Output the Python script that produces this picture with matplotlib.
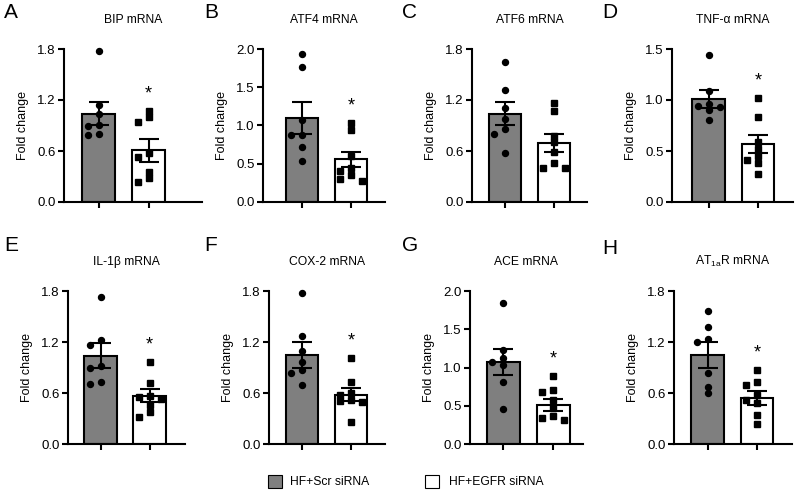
import matplotlib
matplotlib.use("Agg")
import matplotlib.pyplot as plt
import numpy as np

plt.rcParams['font.family'] = ['Liberation Sans', 'DejaVu Sans']
plt.rcParams['mathtext.fontset'] = 'custom'
plt.rcParams['mathtext.rm'] = 'Liberation Sans'
plt.rcParams['mathtext.it'] = 'Liberation Sans'

# ---------------- data ----------------
panel_letters = ["A", "B", "C", "D", "E", "F", "G", "H"]
titles = ["BIP mRNA", "ATF4 mRNA", "ATF6 mRNA", "TNF-α mRNA",
          "IL-1β mRNA", "COX-2 mRNA", "ACE mRNA", r"AT$_{\mathrm{1a}}$R mRNA"]
groups = ["HF+Scr siRNA", "HF+EGFR siRNA"]
ymax = [1.8, 2.0, 1.8, 1.5, 1.8, 1.8, 2.0, 1.8]
ytick_step = [0.6, 0.5, 0.6, 0.5, 0.6, 0.6, 0.5, 0.6]

scr_mean = [1.04, 1.10, 1.04, 1.01, 1.04, 1.05, 1.07, 1.05]
scr_sem = [0.14, 0.21, 0.14, 0.09, 0.145, 0.15, 0.17, 0.15]
egfr_mean = [0.61, 0.56, 0.69, 0.57, 0.57, 0.58, 0.51, 0.54]
egfr_sem = [0.135, 0.10, 0.105, 0.085, 0.075, 0.075, 0.08, 0.08]

scr_points = [
    [1.78, 1.14, 1.04, 0.90, 0.89, 0.80, 0.79],
    [1.94, 1.77, 1.07, 0.87, 0.87, 0.72, 0.54],
    [1.65, 1.32, 1.10, 0.98, 0.86, 0.80, 0.58],
    [1.44, 1.09, 0.96, 0.94, 0.93, 0.90, 0.80],
    [1.73, 1.22, 1.17, 0.92, 0.89, 0.73, 0.71],
    [1.78, 1.27, 1.10, 0.97, 0.87, 0.83, 0.69],
    [1.84, 1.23, 1.12, 1.07, 1.03, 0.81, 0.46],
    [1.56, 1.38, 1.23, 1.20, 0.83, 0.67, 0.60],
]
egfr_points = [
    [1.07, 1.00, 0.94, 0.58, 0.53, 0.35, 0.28, 0.24],
    [1.03, 0.94, 0.60, 0.45, 0.40, 0.35, 0.30, 0.28],
    [1.16, 1.07, 0.78, 0.71, 0.59, 0.46, 0.40, 0.40],
    [1.02, 0.83, 0.59, 0.52, 0.45, 0.41, 0.38, 0.27],
    [0.97, 0.72, 0.57, 0.55, 0.53, 0.46, 0.38, 0.32],
    [1.01, 0.73, 0.60, 0.58, 0.52, 0.51, 0.50, 0.26],
    [0.89, 0.71, 0.68, 0.58, 0.47, 0.36, 0.34, 0.32],
    [0.87, 0.73, 0.70, 0.58, 0.52, 0.48, 0.34, 0.24],
]
significant = [True, True, False, True, True, True, True, True]

# ---------------- layout (pixels) ----------------
W, H = 795, 494
# y-axis x, x-axis end, first bar centre, bar spacing
col_geom = [
    (64, 202, 98.5, 50), (263, 385, 302, 49), (472, 587, 505, 49), (672, 793, 708.5, 49.5),
    (68, 185, 100.5, 49), (269, 385, 302, 49), (470, 583, 503, 50), (674, 792, 707.5, 49.5),
]
row_geom = [(49, 202)] * 4 + [(291, 444)] * 4
letter_pos = [(4, 12), (204, 12), (402, 12), (602, 12),
              (4, 245), (204, 245), (402, 245), (602, 248)]

GRAY = "#7f7f7f"
LW = 1.5

fig = plt.figure(figsize=(W / 100, H / 100), dpi=100)


def swarm_offsets(vals, ppu_y, ppu_x, spacing_px=11, min_dy=5.5):
    order = np.argsort(-np.asarray(vals))
    placed = []
    offs = np.zeros(len(vals))
    for i in order:
        y = vals[i] * ppu_y
        for k in [0, -1, 1, -2, 2]:
            x = k * spacing_px
            ok = all(not (abs(y - py) < min_dy and abs(x - px) < spacing_px * 0.8)
                     for px, py in placed)
            if ok:
                placed.append((x, y))
                offs[i] = x / ppu_x
                break
    return offs


for i in range(8):
    yx, xend, c0, d = col_geom[i]
    ytop, ybot = row_geom[i]
    ax = fig.add_axes([yx / W, 1 - ybot / H, (xend - yx) / W, (ybot - ytop) / H])
    ax.set_xlim((yx - c0) / d, (xend - c0) / d)
    ax.set_ylim(0, ymax[i])
    ppu_y = (ybot - ytop) / ymax[i]

    ax.bar([0], [scr_mean[i]], width=0.66, color=GRAY, edgecolor="black", linewidth=LW, zorder=1)
    ax.bar([1], [egfr_mean[i]], width=0.66, color="white", edgecolor="black", linewidth=LW, zorder=1)
    ax.errorbar([0, 1], [scr_mean[i], egfr_mean[i]], yerr=[scr_sem[i], egfr_sem[i]],
                fmt="none", ecolor="black", elinewidth=LW, capsize=7, capthick=LW, zorder=3)

    so = swarm_offsets(scr_points[i], ppu_y, d)
    eo = swarm_offsets(egfr_points[i], ppu_y, d)
    ax.plot(0 + so, scr_points[i], "o", color="black", markersize=4.3, zorder=4, clip_on=False)
    ax.plot(1 + eo, egfr_points[i], "s", color="black", markersize=3.9, zorder=4, clip_on=False)

    if significant[i]:
        ax.annotate("*", xy=(1, max(egfr_points[i])), xytext=(0, 6), textcoords="offset points",
                    ha="center", va="bottom", fontsize=13)

    ticks = np.arange(0, ymax[i] + 1e-6, ytick_step[i])
    ax.set_yticks(ticks)
    ax.set_yticklabels([f"{v:.1f}" for v in ticks])
    ax.set_xticks([0, 1])
    ax.set_xticklabels([])
    for s in ["top", "right"]:
        ax.spines[s].set_visible(False)
    for s in ["left", "bottom"]:
        ax.spines[s].set_linewidth(LW)
    ax.tick_params(axis="both", width=LW, length=4, labelsize=9.5, pad=2)
    ax.set_ylabel("Fold change", fontsize=9, labelpad=6)
    ax.set_title(titles[i], fontsize=8.7, pad=19)

    lx, ly = letter_pos[i]
    fig.text(lx / W, 1 - ly / H, panel_letters[i], fontsize=15, ha="left", va="center")

# legend
for (sx, tx, col, lab) in [(268, 290, GRAY, groups[0]), (425, 449, "white", groups[1])]:
    fig.patches.append(plt.Rectangle((sx / W, 1 - 488 / H), 14 / W, 13 / H, transform=fig.transFigure,
                                     facecolor=col, edgecolor="black", linewidth=0.8))
    fig.text(tx / W, 1 - 481.5 / H, lab, fontsize=8.7, ha="left", va="center")

fig.savefig("out.png", dpi=100)
